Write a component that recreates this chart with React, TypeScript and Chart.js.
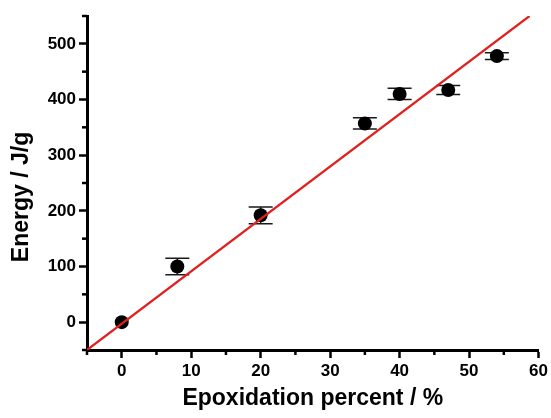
import React, { useEffect, useRef } from "react";
import { Chart, registerables } from "chart.js";

Chart.register(...registerables);

// Data
const xValues = [0, 8, 20, 35, 40, 47, 54];
const energyValues = [0, 100, 192, 357, 410, 417, 478];
const errorValues = [0, 15, 15, 10, 10, 8, 6];
const fitLineX = [-5, 58.7];
const fitLineY = [-50, 550];

const xTitle = "Epoxidation percent / %";
const yTitle = "Energy / J/g";

const FONT = "'Liberation Sans', Arial, sans-serif";

const errorBarPlugin = {
  id: "errorBars",
  beforeDatasetsDraw(chart: any) {
    const { ctx, scales } = chart;
    const x = scales.x;
    const y = scales.y;
    ctx.save();
    ctx.strokeStyle = "#1a1a1a";
    ctx.lineWidth = 1.5;
    xValues.forEach((xv, i) => {
      if (errorValues[i] <= 0) return;
      const px = x.getPixelForValue(xv);
      const top = y.getPixelForValue(energyValues[i] + errorValues[i]);
      const bot = y.getPixelForValue(energyValues[i] - errorValues[i]);
      ctx.beginPath();
      ctx.moveTo(px, top);
      ctx.lineTo(px, bot);
      ctx.moveTo(px - 12, top);
      ctx.lineTo(px + 12, top);
      ctx.moveTo(px - 12, bot);
      ctx.lineTo(px + 12, bot);
      ctx.stroke();
    });
    ctx.restore();
  },
};

const minorTickPlugin = {
  id: "minorTicks",
  afterDraw(chart: any) {
    const { ctx, scales, chartArea } = chart;
    const x = scales.x;
    const y = scales.y;
    ctx.save();
    ctx.strokeStyle = "#000";
    ctx.lineWidth = 2.5;
    x.ticks.forEach((t: any) => {
      if (Math.abs(t.value % 10) > 0.001) {
        const px = x.getPixelForValue(t.value);
        ctx.beginPath();
        ctx.moveTo(px, chartArea.bottom);
        ctx.lineTo(px, chartArea.bottom + 5);
        ctx.stroke();
      }
    });
    y.ticks.forEach((t: any) => {
      if (Math.abs(t.value % 100) > 0.001) {
        const py = y.getPixelForValue(t.value);
        ctx.beginPath();
        ctx.moveTo(chartArea.left, py);
        ctx.lineTo(chartArea.left - 5, py);
        ctx.stroke();
      }
    });
    // y axis title
    ctx.fillStyle = "#000";
    ctx.font = `bold 23px ${FONT}`;
    ctx.textAlign = "center";
    ctx.textBaseline = "middle";
    ctx.translate(22, 197);
    ctx.rotate(-Math.PI / 2);
    ctx.fillText(yTitle, 0, 0);
    ctx.restore();
  },
};

export default function App() {
  const canvasRef = useRef<HTMLCanvasElement | null>(null);

  useEffect(() => {
    if (!canvasRef.current) return;
    const chart = new Chart(canvasRef.current, {
      type: "scatter",
      data: {
        datasets: [
          {
            type: "line",
            label: "fit",
            data: fitLineX.map((xv, i) => ({ x: xv, y: fitLineY[i] })),
            borderColor: "#e0201e",
            borderWidth: 2.2,
            pointRadius: 0,
            fill: false,
            order: 0,
          } as any,
          {
            label: "Energy",
            data: xValues.map((xv, i) => ({ x: xv, y: energyValues[i] })),
            backgroundColor: "#000",
            borderWidth: 0,
            pointRadius: 7,
            order: 1,
          },
        ],
      },
      options: {
        responsive: false,
        animation: false,
        layout: { padding: { top: 16, right: 12, left: 0, bottom: 0 } },
        plugins: {
          legend: { display: false },
          tooltip: { enabled: false },
        },
        scales: {
          x: {
            type: "linear",
            min: -5,
            max: 60,
            afterFit: (s: any) => {
              s.height = 68;
            },
            border: { display: true, color: "#000", width: 3 },
            grid: {
              drawOnChartArea: false,
              drawTicks: true,
              tickLength: 8,
              tickWidth: 2.5,
              tickColor: (c: any) =>
                c.tick && Math.abs(c.tick.value % 10) < 0.001 ? "#000" : "rgba(0,0,0,0)",
            },
            ticks: {
              stepSize: 5,
              autoSkip: false,
              maxRotation: 0,
              padding: 3,
              color: "#000",
              font: { family: FONT, size: 17, weight: "bold" },
              callback: (v: any) => (Math.abs(Number(v) % 10) < 0.001 ? String(v) : ""),
            },
            title: {
              display: true,
              text: xTitle,
              color: "#000",
              font: { family: FONT, size: 23, weight: "bold" },
              padding: { top: 0, bottom: 6 },
            },
          },
          y: {
            type: "linear",
            min: -50,
            max: 550,
            afterFit: (s: any) => {
              s.width = 87;
            },
            border: { display: true, color: "#000", width: 3 },
            grid: {
              drawOnChartArea: false,
              drawTicks: true,
              tickLength: 8,
              tickWidth: 2.5,
              tickColor: (c: any) =>
                c.tick && Math.abs(c.tick.value % 100) < 0.001 ? "#000" : "rgba(0,0,0,0)",
            },
            ticks: {
              stepSize: 50,
              autoSkip: false,
              padding: 3,
              color: "#000",
              font: { family: FONT, size: 17, weight: "bold" },
              callback: (v: any) => (Math.abs(Number(v) % 100) < 0.001 ? String(v) : ""),
            },
          },
        },
      },
      plugins: [errorBarPlugin, minorTickPlugin],
    });
    return () => chart.destroy();
  }, []);

  return (
    <div style={{ position: "absolute", left: 0, top: 0, width: 551, height: 418, background: "#fff" }}>
      <canvas ref={canvasRef} width={551} height={418} />
    </div>
  );
}
